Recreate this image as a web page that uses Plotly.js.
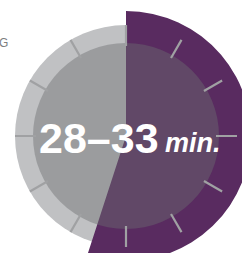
<!DOCTYPE html>
<html>
<head>
<meta charset="utf-8">
<script src="https://cdn.plot.ly/plotly-3.0.1.min.js"></script>
<style>
html,body{margin:0;padding:0;width:242px;height:253px;overflow:hidden;background:#ffffff;}
#wrap{position:absolute;left:0;top:0;width:242px;height:253px;overflow:hidden;}
#chart{position:absolute;}
</style>
</head>
<body>
<div id="wrap"><div id="chart"></div></div>
<script>
// ---- data ----
var totalMinutes = 60;          // full dial
var rangeMinutes = [28, 33];    // estimated range
var tickCount = 12;             // dial tick marks
var rangeLabel = rangeMinutes[0] + "\u2013" + rangeMinutes[1];
var unitLabel = "min.";
var cutLabel = "G";

// ---- layout constants (pixels) ----
var CX = 126, CY = 136, S = 264;
var R_RING = 111, R_DISC = 93, R_WEDGE = 125;
var TICK_IN = 90, TICK_OUT = 111;
var offX = CX - S / 2, offY = CY - S / 2;
var el = document.getElementById('chart');
el.style.left = offX + 'px';
el.style.top = offY + 'px';
el.style.width = S + 'px';
el.style.height = S + 'px';
function px(x){ return (x - offX) / S; }
function py(y){ return 1 - (y - offY) / S; }

var degPerMin = 360 / totalMinutes;
var wedgeDeg = rangeMinutes[1] * degPerMin;

// ticks
var tr = [], tt = [];
for (var i = 0; i < tickCount; i++) {
  var a = i * 360 / tickCount;
  tr.push(TICK_IN, TICK_OUT, null);
  tt.push(a, a, null);
}

var traces = [
  {type:'barpolar', r:[R_RING, R_RING], theta:[90, 270], width:[180, 180],
   marker:{color:'#c0c1c3', line:{width:0}}, hoverinfo:'skip'},
  {type:'barpolar', r:[R_WEDGE], theta:[wedgeDeg / 2], width:[wedgeDeg],
   marker:{color:'#592b60', line:{width:0}}, hoverinfo:'skip'},
  {type:'scatterpolar', mode:'lines', r:tr, theta:tt,
   line:{color:'#a0a1a3', width:2.2}, hoverinfo:'skip', connectgaps:false},
  {type:'barpolar', r:[R_DISC, R_DISC], theta:[90, 270], width:[180, 180],
   marker:{color:'rgba(108,109,112,0.44)', line:{width:0}}, hoverinfo:'skip'}
];

var layout = {
  width:S, height:S,
  margin:{l:0, r:0, t:0, b:0, pad:0},
  paper_bgcolor:'rgba(0,0,0,0)',
  showlegend:false,
  polar:{
    domain:{x:[0,1], y:[0,1]},
    bgcolor:'rgba(0,0,0,0)',
    hole:0,
    barmode:'overlay',
    bargap:0,
    radialaxis:{visible:false, range:[0, S/2]},
    angularaxis:{visible:false, rotation:90, direction:'clockwise'}
  },
  annotations:[
    {text:'<b>' + rangeLabel + '</b>', xref:'paper', yref:'paper',
     x:px(37), y:py(138), xanchor:'left', yanchor:'middle', showarrow:false,
     font:{family:'Liberation Sans, Arial, sans-serif', size:43, color:'#ffffff'}},
    {text:'<b><i>' + unitLabel + '</i></b>', xref:'paper', yref:'paper',
     x:px(163), y:py(142.5), xanchor:'left', yanchor:'middle', showarrow:false,
     font:{family:'Liberation Sans, Arial, sans-serif', size:27, color:'#ffffff'}},
    {text:cutLabel, xref:'paper', yref:'paper',
     x:px(-3), y:py(43), xanchor:'left', yanchor:'middle', showarrow:false,
     font:{family:'Liberation Sans, Arial, sans-serif', size:12, color:'#7d7e80'}}
  ]
};

Plotly.newPlot(el, traces, layout, {staticPlot:true, displayModeBar:false});
</script>
</body>
</html>
